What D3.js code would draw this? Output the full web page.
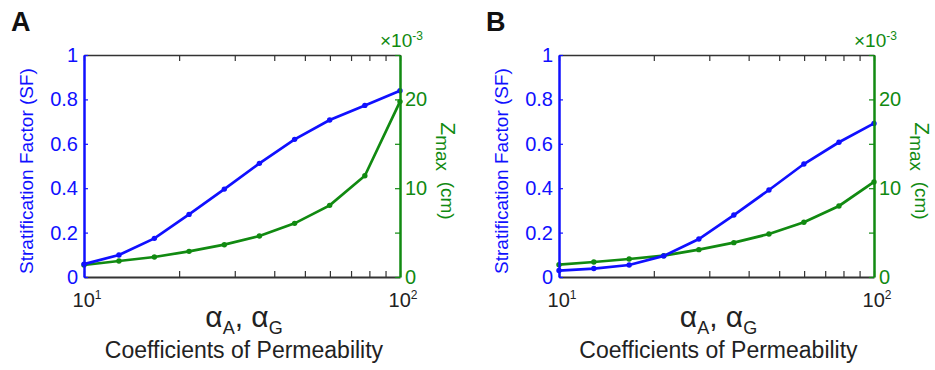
<!DOCTYPE html>
<html>
<head>
<meta charset="utf-8">
<script src="https://cdn.jsdelivr.net/npm/d3@7"></script>
<style>
  body { margin: 0; background: #fff; }
  text { font-family: "Liberation Sans", Arial, sans-serif; }
</style>
</head>
<body>
<div id="chart"></div>
<script>
// permeability coefficients (x positions, log scale)
var alpha = [10, 12.9, 16.7, 21.5, 27.8, 35.9, 46.4, 59.9, 77.4, 100];

// panel A
var sfA = [0.058, 0.099, 0.174, 0.282, 0.396, 0.512, 0.620, 0.707, 0.773, 0.839];
var zmaxA = [1.35, 1.8, 2.25, 2.89, 3.64, 4.62, 6.04, 8.07, 11.4, 19.75];

// panel B
var sfB = [0.029, 0.038, 0.054, 0.095, 0.171, 0.279, 0.392, 0.509, 0.607, 0.692];
var zmaxB = [1.39, 1.69, 2.03, 2.4, 3.08, 3.87, 4.84, 6.16, 8.0, 10.7];

// ticks
var sfTicks = [0, 0.2, 0.4, 0.6, 0.8, 1];
var zTicks = [0, 5, 10, 15, 20, 25];
var zLabels = [0, 10, 20];
var xMinor = [10, 20, 30, 40, 50, 60, 70, 80, 90, 100];
var xMajor = [{v: 10, e: "1"}, {v: 100, e: "2"}];

var svgWidth = 935;
var svgHeight = 370;
var height = 222;
var top0 = 55;

var blue = "#1010ff";
var green = "#118a11";
var dark = "#333";

var svg = d3.select("#chart")
  .append("svg")
  .attr("width", svgWidth)
  .attr("height", svgHeight);

function styleAxis(sel, color, domainWidth) {
  sel.select(".domain").attr("stroke", color).attr("stroke-width", domainWidth);
  sel.selectAll(".tick line").attr("stroke", color).attr("stroke-width", 1.2);
  sel.selectAll(".tick text").attr("fill", color).style("font-size", "20px");
}

function drawPanel(left, width, letter, sf, zmax) {
  var g = svg.append("g").attr("transform", `translate(${left}, ${top0})`);

  var x = d3.scaleLog().domain([10, 100]).range([0, width]);
  var ySF = d3.scaleLinear().domain([0, 1]).range([height, 0]);
  var yZ = d3.scaleLinear().domain([0, 25]).range([height, 0]);

  // top and bottom frame with inward minor ticks
  var topAxis = g.append("g")
    .call(d3.axisTop(x).tickValues(xMinor).tickSize(-6).tickSizeOuter(0).tickFormat(""));
  styleAxis(topAxis, dark, 1.5);

  var bottomAxis = g.append("g")
    .attr("transform", `translate(0, ${height})`)
    .call(d3.axisBottom(x).tickValues(xMinor).tickSize(-6).tickSizeOuter(0).tickFormat(""));
  styleAxis(bottomAxis, dark, 2);

  // data lines
  var lineSF = d3.line().x((d, i) => x(alpha[i])).y(d => ySF(d));
  var lineZ = d3.line().x((d, i) => x(alpha[i])).y(d => yZ(d));

  g.append("path").datum(zmax)
    .attr("d", lineZ).attr("fill", "none")
    .attr("stroke", green).attr("stroke-width", 2.7);
  g.selectAll(".zdot").data(zmax).enter().append("circle")
    .attr("cx", (d, i) => x(alpha[i])).attr("cy", d => yZ(d))
    .attr("r", 2.7).attr("fill", green);

  g.append("path").datum(sf)
    .attr("d", lineSF).attr("fill", "none")
    .attr("stroke", blue).attr("stroke-width", 2.7);
  g.selectAll(".sfdot").data(sf).enter().append("circle")
    .attr("cx", (d, i) => x(alpha[i])).attr("cy", d => ySF(d))
    .attr("r", 2.7).attr("fill", blue);

  // left axis (SF)
  var leftAxis = g.append("g")
    .call(d3.axisLeft(ySF).tickValues(sfTicks).tickSize(-4).tickSizeOuter(0)
      .tickPadding(6).tickFormat(d3.format("~g")));
  styleAxis(leftAxis, blue, 2.5);

  // right axis (Zmax)
  var rightAxis = g.append("g")
    .attr("transform", `translate(${width}, 0)`)
    .call(d3.axisRight(yZ).tickValues(zTicks).tickSize(-5).tickSizeOuter(0)
      .tickPadding(5).tickFormat(d => zLabels.indexOf(d) >= 0 ? d : ""));
  styleAxis(rightAxis, green, 2.5);

  // x tick labels 10^1, 10^2
  xMajor.forEach(function(t) {
    var txt = g.append("text")
      .attr("x", x(t.v) + 3)
      .attr("y", height + 30)
      .attr("text-anchor", "middle")
      .attr("fill", "#222")
      .style("font-size", "20px");
    txt.append("tspan").text("10");
    txt.append("tspan").attr("dy", -8).style("font-size", "12px").text(t.e);
  });

  // x title
  var xt = g.append("text")
    .attr("x", width / 2 + 2)
    .attr("y", height + 50)
    .attr("text-anchor", "middle")
    .attr("fill", "#222")
    .style("font-size", "30px");
  xt.append("tspan").text("\u03b1");
  xt.append("tspan").attr("dy", 7).style("font-size", "18px").text("A");
  xt.append("tspan").attr("dy", -7).text(", \u03b1");
  xt.append("tspan").attr("dy", 7).style("font-size", "18px").text("G");

  g.append("text")
    .attr("x", width / 2 + 2)
    .attr("y", height + 81)
    .attr("text-anchor", "middle")
    .attr("fill", "#222")
    .style("font-size", "23px")
    .text("Coefficients of Permeability");

  // left y label
  g.append("text")
    .attr("transform", `translate(-51, ${height / 2 + 5}) rotate(-90)`)
    .attr("text-anchor", "middle")
    .attr("fill", blue)
    .style("font-size", "19px")
    .text("Stratification Factor (SF)");

  // right y label
  var zl = g.append("text")
    .attr("transform", `translate(${width + 41}, ${height / 2 + 5}) rotate(90)`)
    .attr("text-anchor", "middle")
    .attr("fill", green)
    .style("font-size", "19px");
  zl.append("tspan").style("font-size", "21px").text("Z");
  zl.append("tspan").attr("dy", 5).text("max");
  zl.append("tspan").attr("dy", -5).text("\u00a0 (cm)");

  // exponent label
  var ex = g.append("text")
    .attr("x", width - 20)
    .attr("y", -8)
    .attr("fill", green)
    .style("font-size", "19px");
  ex.append("tspan").text("\u00d710");
  ex.append("tspan").attr("dy", -7).style("font-size", "12px").text("-3");

  // panel letter
  svg.append("text")
    .attr("x", left - 73)
    .attr("y", 31)
    .attr("fill", "#111")
    .style("font-size", "27px")
    .style("font-weight", "bold")
    .text(letter);
}

drawPanel(84, 316, "A", sfA, zmaxA);
drawPanel(559, 315, "B", sfB, zmaxB);
</script>
</body>
</html>
